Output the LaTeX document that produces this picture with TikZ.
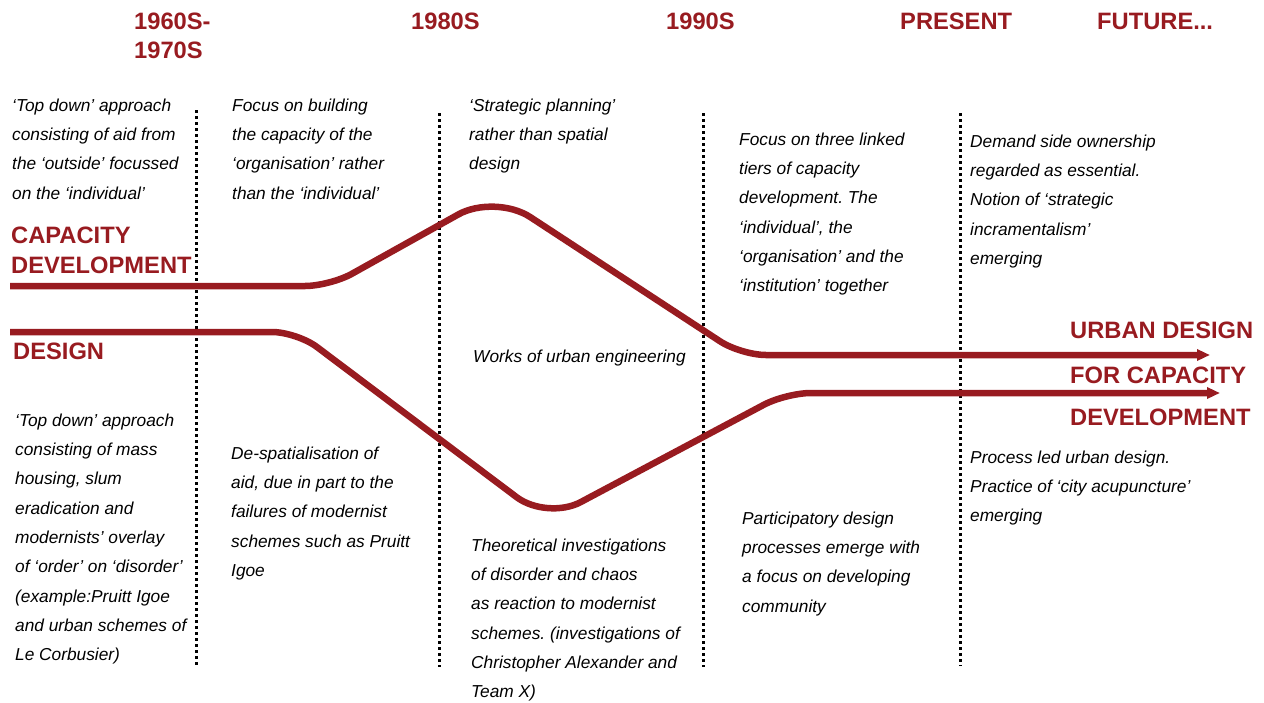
\documentclass[tikz,border=0pt]{standalone}
\usepackage{fontspec}
\newfontfamily\ar{Liberation Sans}
\usetikzlibrary{arrows.meta}
\definecolor{dred}{RGB}{152,27,32}
\newcommand\fst{\rule{0pt}{13pt}}
\frenchspacing
\tikzset{
  txt/.style={anchor=north west, inner sep=0pt, align=left, font=\ar\itshape\fontsize{17.3}{29.3}\selectfont},
  lbl/.style={anchor=base west, inner sep=0pt, text=dred, font=\ar\bfseries\fontsize{23.7}{28}\selectfont},
  sepline/.style={line width=3pt, dash pattern=on 3pt off 3pt},
  flow/.style={draw=dred, line width=6.5pt, -{Triangle[length=13pt,width=11pt]}},
}
\begin{document}
\begin{tikzpicture}[x=1pt,y=-1pt]
\useasboundingbox (0,0) rectangle (1264,702);
% separators
\draw[sepline] (196,110) coordinate (s1t) -- (196,665) coordinate (s1b);
\draw[sepline] (439,113) coordinate (s2t) -- (439,667) coordinate (s2b);
\draw[sepline] (703,113) coordinate (s3t) -- (703,667) coordinate (s3b);
\draw[sepline] (960,113) coordinate (s4t) -- (960,666) coordinate (s4b);
% headers
\node[lbl] (h1) at (134,29) {1960S-};
\node[lbl] (h1b) at (134,58) {1970S};
\node[lbl] (h2) at (411,29) {1980S};
\node[lbl] (h3) at (666,29) {1990S};
\node[lbl] (h4) at (900,29) {PRESENT};
\node[lbl] (h5) at (1097,29) {FUTURE...};
% side labels
\node[lbl] (cap1) at (11,243) {CAPACITY};
\node[lbl] (cap2) at (11,273) {DEVELOPMENT};
\node[lbl] (des) at (13,359) {DESIGN};
\node[lbl] (u1) at (1070,338) {URBAN DESIGN};
\node[lbl] (u2) at (1070,383) {FOR CAPACITY};
\node[lbl] (u3) at (1070,425) {DEVELOPMENT};
% flows
\coordinate (cs) at (10,286);
\coordinate (c1) at (330,286);
\coordinate (cp) at (495,194);
\coordinate (c3) at (741,355);
\coordinate (ce) at (1210,355);
\coordinate (ds) at (10,332);
\coordinate (d1) at (297,332);
\coordinate (dp) at (547,520);
\coordinate (d3) at (786,393);
\coordinate (de) at (1220,393);
\draw[flow] (cs) [rounded corners=25pt] -- (c1) [rounded corners=42pt] -- (cp) [rounded corners=25pt] -- (c3) -- (ce);
\draw[flow] (ds) [rounded corners=25pt] -- (d1) [rounded corners=38pt] -- (dp) [rounded corners=25pt] -- (d3) -- (de);
% texts
\node[txt] (ta) at (12,98) {\fst‘Top down’ approach\\consisting of aid from\\the ‘outside’ focussed\\on the ‘individual’};
\node[txt] (tb) at (232,98) {\fst Focus on building\\the capacity of the\\‘organisation’ rather\\than the ‘individual’};
\node[txt] (tc) at (469,98) {\fst‘Strategic planning’\\rather than spatial\\design};
\node[txt] (td) at (739,132) {\fst Focus on three linked\\tiers of capacity\\development. The\\‘individual’, the\\‘organisation’ and the\\‘institution’ together};
\node[txt] (te) at (970,134) {\fst Demand side ownership\\regarded as essential.\\Notion of ‘strategic\\incramentalism’\\emerging};
\node[txt] (tw) at (473,349) {\fst Works of urban engineering};
\node[txt] (tf) at (15,413) {\fst‘Top down’ approach\\consisting of mass\\housing, slum\\eradication and\\modernists’ overlay\\of ‘order’ on ‘disorder’\\(example:Pruitt Igoe\\and urban schemes of\\Le Corbusier)};
\node[txt] (tg) at (231,446) {\fst De-spatialisation of\\aid, due in part to the\\failures of modernist\\schemes such as Pruitt\\Igoe};
\node[txt] (th) at (471,538) {\fst Theoretical investigations\\of disorder and chaos\\as reaction to modernist\\schemes. (investigations of\\Christopher Alexander and\\Team X)};
\node[txt] (ti) at (742,511) {\fst Participatory design\\processes emerge with\\a focus on developing\\community};
\node[txt] (tj) at (970,450) {\fst Process led urban design.\\Practice of ‘city acupuncture’\\emerging};
\end{tikzpicture}
\end{document}
